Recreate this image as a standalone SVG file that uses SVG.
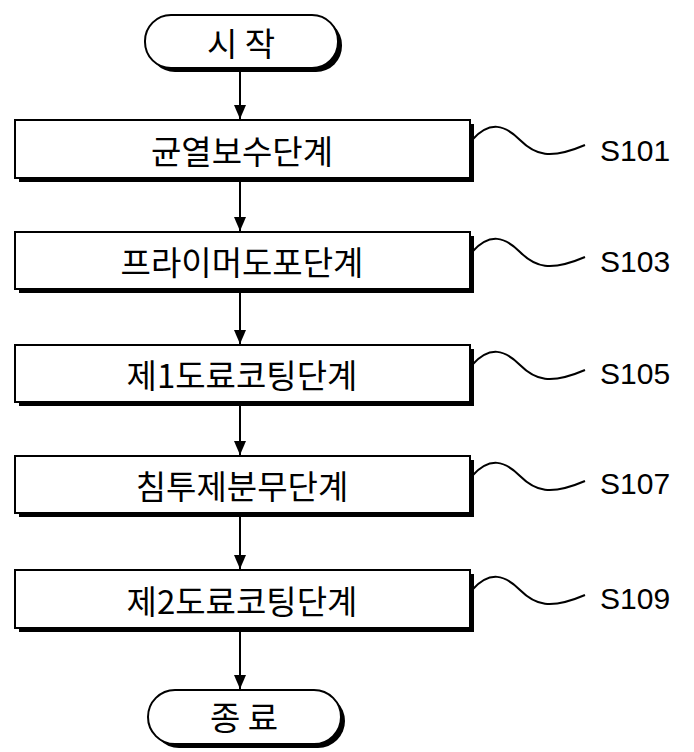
<svg xmlns="http://www.w3.org/2000/svg" width="694" height="752" viewBox="0 0 694 752">
<style>
.n{fill:#fff;stroke:#000;stroke-width:2}
.sh{fill:#000}
.t{font-family:"Noto Sans CJK KR","Noto Sans",sans-serif;font-size:33px;text-anchor:middle;dominant-baseline:central}
.l{font-family:"Liberation Sans",sans-serif;font-size:30px;dominant-baseline:central}
.c{stroke:#000;stroke-width:2;fill:none}
</style>
<defs><marker id="a" markerWidth="14" markerHeight="12" refX="14" refY="6" orient="auto" markerUnits="userSpaceOnUse" viewBox="0 0 14 12"><path d="M0,0L14,6L0,12Z" fill="#000"/></marker></defs>
<g id="start"><rect class="sh" x="149" y="19" width="193" height="53" rx="26"/><rect class="n" x="145" y="15" width="193" height="53" rx="26"/><text class="t" x="241" y="42">시 작</text></g>
<g id="s101"><rect class="sh" x="19" y="124" width="455" height="58"/><rect class="n" x="15" y="120" width="455" height="58"/><text class="t" x="242" y="150">균열보수단계</text></g>
<g id="s103"><rect class="sh" x="19" y="236" width="455" height="57"/><rect class="n" x="15" y="232" width="455" height="57"/><text class="t" x="242" y="261">프라이머도포단계</text></g>
<g id="s105"><rect class="sh" x="19" y="349" width="455" height="57"/><rect class="n" x="15" y="345" width="455" height="57"/><text class="t" x="242" y="374">제1도료코팅단계</text></g>
<g id="s107"><rect class="sh" x="19" y="460" width="455" height="57"/><rect class="n" x="15" y="456" width="455" height="57"/><text class="t" x="242" y="485">침투제분무단계</text></g>
<g id="s109"><rect class="sh" x="19" y="574" width="455" height="58"/><rect class="n" x="15" y="570" width="455" height="58"/><text class="t" x="242" y="600">제2도료코팅단계</text></g>
<g id="end"><rect class="sh" x="152" y="694" width="193" height="54" rx="27"/><rect class="n" x="148" y="690" width="193" height="54" rx="27"/><text class="t" x="244" y="716">종 료</text></g>
<g id="connectors">
<line class="c" x1="240" y1="70" x2="240" y2="119" marker-end="url(#a)"/>
<line class="c" x1="240" y1="180" x2="240" y2="231" marker-end="url(#a)"/>
<line class="c" x1="240" y1="291" x2="240" y2="344" marker-end="url(#a)"/>
<line class="c" x1="240" y1="404" x2="240" y2="455" marker-end="url(#a)"/>
<line class="c" x1="240" y1="515" x2="240" y2="569" marker-end="url(#a)"/>
<line class="c" x1="240" y1="630" x2="240" y2="689" marker-end="url(#a)"/>
<path class="c" d="M472,140 C490,120 505,125 520,140 S550,160 585,145"/>
<path class="c" d="M472,252 C490,232 505,237 520,252 S550,272 585,257"/>
<path class="c" d="M472,365 C490,345 505,350 520,365 S550,385 585,370"/>
<path class="c" d="M472,476 C490,456 505,461 520,476 S550,496 585,481"/>
<path class="c" d="M472,590 C490,570 505,575 520,590 S550,610 585,595"/>
</g>
<text class="l" x="600" y="150">S101</text>
<text class="l" x="600" y="261">S103</text>
<text class="l" x="600" y="373">S105</text>
<text class="l" x="600" y="483">S107</text>
<text class="l" x="600" y="598">S109</text>
</svg>
